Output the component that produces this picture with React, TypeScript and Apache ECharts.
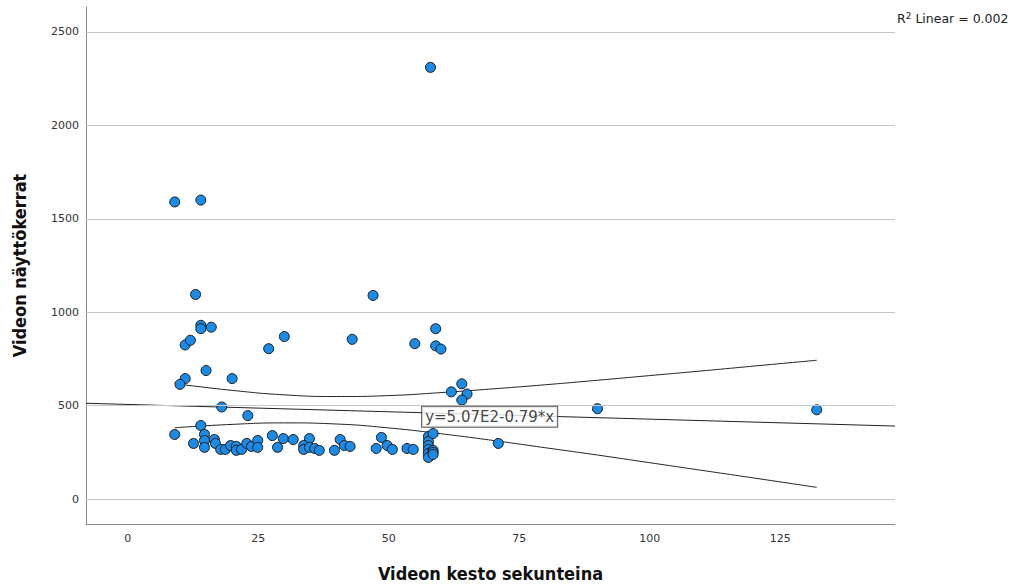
import React, { useEffect, useRef } from "react";
import * as echarts from "echarts";

// Scatter data: [duration (s), views]
const points: [number, number][] = [
  [9, 1590], [14, 1600], [13, 1095], [14, 930], [14, 912], [16, 920], [11, 825], [12, 850],
  [27, 805], [30, 870], [43, 855], [47, 1090], [55, 832], [59, 912], [59, 820], [60, 803],
  [58, 2310],
  [15, 688], [20, 645], [11, 645], [10, 614], [18, 493], [23, 447], [62, 574], [64, 617],
  [65, 562], [64, 530], [90, 484], [132, 478], [71, 298],
  [9, 346], [14, 394], [12.6, 298], [14.7, 346], [14.7, 314], [14.7, 277], [16.6, 319],
  [16.8, 298], [17.8, 266], [18.7, 266], [19.7, 287], [20.8, 282], [20.8, 261], [21.8, 266],
  [22.8, 298], [23.7, 282], [24.9, 314], [24.9, 277], [27.7, 340], [28.7, 277],
  [29.8, 324], [31.7, 319], [34.8, 324], [33.7, 287], [33.7, 266], [34.8, 277], [35.8, 271],
  [36.7, 261], [39.6, 261], [40.7, 319], [41.5, 287], [42.6, 282], [47.6, 271], [48.6, 330],
  [49.7, 287], [50.7, 266], [53.5, 271], [54.7, 266],
  [57.6, 335], [57.6, 309], [57.6, 287], [57.6, 266], [57.6, 245], [57.6, 223],
  [58.5, 351], [58.5, 261], [58.5, 250], [58.5, 239],
];

// Fitted line y = 507 - 0.79x across the axis range
const fitLine: [number, number][] = [[-8, 513], [147, 391]];

// Confidence band curves
const ciX = [9, 20, 30, 40, 50, 60, 70, 80, 90, 100, 110, 120, 132];
const ciUpper = [618, 582, 558, 549, 554, 570, 590, 612, 636, 661, 686, 712, 743];
const ciLower = [382, 400, 408, 402, 381, 350, 314, 275, 236, 195, 154, 113, 63];

const xTicks = [0, 25, 50, 75, 100, 125];
const yTicks = [0, 500, 1000, 1500, 2000, 2500];

const eqLabel = "y=5.07E2-0.79*x";
const eqAnchor: [number, number] = [56.4, 441];

export default function App() {
  const ref = useRef<HTMLDivElement>(null);
  useEffect(() => {
    if (!ref.current) return;
    document.body.style.margin = "0";
    const chart = echarts.init(ref.current, undefined, { renderer: "svg" });
    const font = "'DejaVu Sans', sans-serif";
    const titleFont = "'DejaVu Sans Condensed', 'DejaVu Sans', sans-serif";
    const lineStyle = { color: "#222", width: 1 };
    chart.setOption({
      animation: false,
      grid: { left: 86, right: 122, top: 7, bottom: 50 },
      xAxis: {
        type: "value",
        min: -8,
        max: 147,
        name: "Videon kesto sekunteina",
        nameLocation: "middle",
        nameGap: 40,
        nameTextStyle: { fontFamily: titleFont, fontSize: 18, fontWeight: "bold", color: "#111" },
        axisLine: { show: true, onZero: false, lineStyle: { color: "#8a8a8a", width: 1 } },
        axisTick: { show: false },
        splitLine: { show: false },
        axisLabel: {
          customValues: xTicks,
          formatter: (v: number) => String(v),
          margin: 9,
          fontFamily: font,
          fontSize: 11,
          color: "#333",
        },
      },
      yAxis: {
        type: "value",
        min: -133,
        max: 2633,
        name: "Videon näyttökerrat",
        nameLocation: "middle",
        nameGap: 58,
        nameRotate: 90,
        nameTextStyle: { fontFamily: titleFont, fontSize: 18, fontWeight: "bold", color: "#111" },
        axisLine: { show: true, onZero: false, lineStyle: { color: "#8a8a8a", width: 1 } },
        axisTick: { show: false },
        splitLine: { show: false },
        axisLabel: {
          customValues: yTicks,
          formatter: (v: number) => String(v),
          margin: 7,
          fontFamily: font,
          fontSize: 11,
          color: "#333",
        },
      },
      graphic: [
        {
          type: "text",
          left: 897,
          top: 11,
          style: {
            text: "{b|R}{s|2}{b| Linear = 0.002}",
            rich: {
              b: { fontFamily: font, fontSize: 12.5, fill: "#222" },
              s: { fontFamily: font, fontSize: 9, fill: "#222", verticalAlign: "top", padding: [0, 0, 6, 0] },
            },
          },
        },
      ],
      series: [
        {
          type: "line",
          data: [],
          silent: true,
          markLine: {
            silent: true,
            symbol: "none",
            label: { show: false },
            lineStyle: { color: "#c8c8c8", width: 1, type: "solid" },
            data: yTicks.map((v) => ({ yAxis: v })),
          },
        },
        {
          type: "line",
          data: fitLine,
          showSymbol: false,
          lineStyle,
          silent: true,
          z: 3,
        },
        {
          type: "line",
          data: ciX.map((x, i) => [x, ciUpper[i]]),
          smooth: true,
          showSymbol: false,
          lineStyle,
          silent: true,
          z: 3,
        },
        {
          type: "line",
          data: ciX.map((x, i) => [x, ciLower[i]]),
          smooth: true,
          showSymbol: false,
          lineStyle,
          silent: true,
          z: 3,
        },
        {
          type: "scatter",
          data: points,
          symbol: "circle",
          symbolSize: 10,
          itemStyle: { color: "#1a8ce8", borderColor: "#1a1a1a", borderWidth: 1, opacity: 1 },
          z: 4,
        },
        {
          type: "scatter",
          data: [eqAnchor],
          symbolSize: 0,
          z: 6,
          label: {
            show: true,
            position: "right",
            distance: 0,
            formatter: eqLabel,
            fontFamily: font,
            fontSize: 15,
            color: "#111",
            backgroundColor: "#fff",
            borderColor: "#333",
            borderWidth: 1,
            padding: [3, 3, 2, 3],
          },
        },
      ],
    });
    return () => chart.dispose();
  }, []);
  return <div ref={ref} style={{ width: 1017, height: 587 }} />;
}
